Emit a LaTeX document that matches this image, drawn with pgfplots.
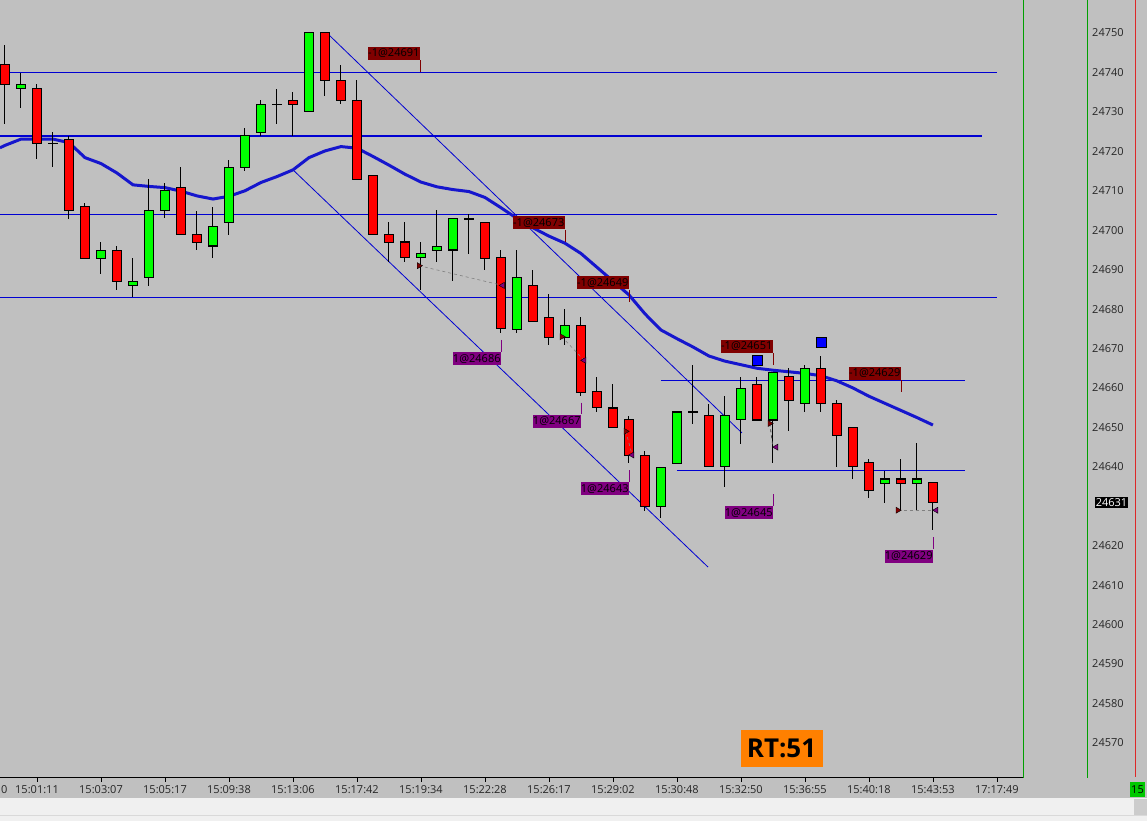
\documentclass[border=0pt]{standalone}
\usepackage{fontspec}
\setmainfont{Open Sans}
\usepackage{pgfplots}
\usepackage{pgfplotstable}
\pgfplotsset{compat=1.18}

\definecolor{chartbg}{RGB}{192,192,192}
\definecolor{candlered}{RGB}{255,0,0}
\definecolor{candlegreen}{RGB}{0,255,0}
\definecolor{levelblue}{RGB}{0,0,210}
\definecolor{mablue}{RGB}{22,22,205}
\definecolor{sellbox}{RGB}{128,0,0}
\definecolor{buybox}{RGB}{128,0,128}
\definecolor{edgegreen}{RGB}{0,160,0}
\definecolor{edgered}{RGB}{220,40,40}
\definecolor{rtorange}{RGB}{255,128,0}
\definecolor{stripgray}{RGB}{240,240,240}
\definecolor{tagbright}{RGB}{0,200,0}

% i = bar index, o h l c = open high low close
\pgfplotstableread{
i o h l c
0 24742 24747 24727 24737
1 24736 24740 24731 24737
2 24736 24737 24718 24722
3 24722 24725 24716 24722
4 24723 24724 24703 24705
5 24706 24707 24693 24693
6 24693 24697 24689 24695
7 24695 24696 24685 24687
8 24686 24693 24683 24687
9 24688 24713 24686 24705
10 24705 24712 24703 24710
11 24711 24716 24699 24699
12 24699 24705 24695 24697
13 24696 24706 24693 24701
14 24702 24718 24699 24716
15 24716 24726 24715 24724
16 24725 24733 24724 24732
17 24732 24736 24727 24732
18 24733 24735 24724 24732
19 24730 24750 24730 24750
20 24750 24750 24734 24738
21 24738 24742 24732 24733
22 24733 24738 24713 24713
23 24714 24714 24699 24699
24 24699 24702 24692 24697
25 24697 24702 24692 24693
26 24693 24697 24685 24694
27 24695 24705 24692 24696
28 24695 24703 24687 24703
29 24703 24704 24694 24703
30 24702 24702 24690 24693
31 24693 24695 24674 24675
32 24675 24695 24674 24688
33 24686 24690 24677 24677
34 24678 24684 24671 24673
35 24673 24680 24671 24676
36 24676 24678 24658 24659
37 24659 24663 24654 24655
38 24655 24661 24650 24650
39 24652 24653 24641 24643
40 24643 24644 24629 24630
41 24630 24640 24627 24640
42 24641 24654 24641 24654
43 24654 24666 24651 24654
44 24653 24656 24640 24640
45 24640 24658 24635 24653
46 24652 24663 24646 24660
47 24661 24663 24652 24652
48 24652 24664 24641 24664
49 24663 24665 24649 24657
50 24656 24666 24654 24665
51 24665 24668 24654 24656
52 24656 24657 24640 24648
53 24650 24650 24637 24640
54 24641 24642 24632 24634
55 24636 24639 24631 24637
56 24637 24642 24629 24636
57 24636 24646 24629 24637
58 24636 24636 24624 24631
}\candles

% moving average
\pgfplotstableread{
i ma
-0.3125 24720.9
0 24721.5
1 24723.1
2 24723.1
3 24723.1
4 24722.2
5 24718.4
6 24716.9
7 24714.5
8 24711.5
9 24711.1
10 24710.8
11 24709.9
12 24708.7
13 24707.9
14 24708.6
15 24710.0
16 24712.1
17 24713.6
18 24715.3
19 24718.4
20 24720.1
21 24721.2
22 24720.8
23 24718.7
24 24716.5
25 24714.2
26 24712.2
27 24711.0
28 24710.3
29 24709.8
30 24708.3
31 24705.7
32 24703.0
33 24700.6
34 24698.5
35 24696.7
36 24694.1
37 24690.6
38 24687.1
39 24683.6
40 24678.8
41 24674.7
42 24672.5
43 24670.4
44 24668.1
45 24666.8
46 24665.9
47 24665.0
48 24664.5
49 24664.1
50 24663.7
51 24663.1
52 24661.8
53 24660.0
54 24657.9
55 24656.1
56 24654.3
57 24652.5
58 24650.6
}\avg

\pgfplotsset{
  frame/.style={at={(0pt,43pt)}, anchor=south west,
    scale only axis, width=1024pt, height=778pt,
    xmin=-0.3125, xmax=63.6875, ymin=24561.11, ymax=24758.37, clip=true},
  candle/.style={draw=none, mark=none, forget plot, unbounded coords=discard,
    error bars/.cd, y dir=both, y explicit, error mark=none},
}
\tikzset{
  lbl/.style={minimum width=52pt, minimum height=13pt, inner sep=0pt,
    font=\fontsize{11pt}{11pt}\selectfont, text=black},
  sell/.style={lbl, fill=sellbox, anchor=south east, yshift=12pt},
  buy/.style={lbl, fill=buybox, minimum width=48pt, anchor=north east, yshift=-12pt},
}

\begin{document}
\begin{tikzpicture}[x=1pt,y=1pt]
\path[use as bounding box] (0,0) rectangle (1147,821);
\fill[chartbg] (0,0) rectangle (1147,821);
\fill[stripgray] (0,0) rectangle (1147,23);
\draw[black!15] (0,6) -- (1147,6);
\fill[black!20] (1134,6) rectangle (1147,22);

% axis A: frame, ticks, levels, average
\begin{axis}[
  frame,
  axis x line*=bottom, axis y line*=right,
  x axis line style={black, line width=1pt, -},
  y axis line style={edgegreen, line width=1pt, -},
  tick align=outside,
  major tick length=4pt,
  xtick={2,6,...,62},
  xticklabels={15:01:11,15:03:07,15:05:17,15:09:38,15:13:06,15:17:42,15:19:34,15:22:28,15:26:17,15:29:02,15:30:48,15:32:50,15:36:55,15:40:18,15:43:53,17:17:49},
  x tick style={black, line width=0.8pt},
  xticklabel style={font=\fontsize{11pt}{13pt}\selectfont, text=black!85},
  ytick={24570,24580,24590,24600,24610,24620,24640,24650,24660,24670,24680,24690,24700,24710,24720,24730,24740,24750},
  y tick style={draw=none},
  scaled y ticks=false,
  yticklabel style={anchor=center, xshift=80pt, font=\fontsize{11pt}{13pt}\selectfont, text=black!85,
    /pgf/number format/.cd, fixed, 1000 sep={}, assume math mode=true},
]
\addplot[levelblue, line width=1pt] coordinates {(-0.3125,24740) (62,24740)};
\addplot[levelblue, line width=2pt] coordinates {(-0.3125,24724) (61.06,24724)};
\addplot[levelblue, line width=1pt] coordinates {(-0.3125,24704) (62,24704)};
\addplot[levelblue, line width=1pt] coordinates {(-0.3125,24683) (62,24683)};
\addplot[levelblue, line width=1pt] coordinates {(41,24662) (60,24662)};
\addplot[levelblue, line width=1pt] coordinates {(42,24639) (60,24639)};
\addplot[levelblue, line width=0.8pt] coordinates {(20.25,24749.5) (46.06,24648.6)};
\addplot[levelblue, line width=0.8pt] coordinates {(18,24715.3) (43.94,24614.6)};
\addplot[mablue, line width=3pt] table[x=i, y=ma] {\avg};
\end{axis}

% axis B: candles
\begin{axis}[frame, hide axis]
\addplot[candle, error bar style={black, line width=1pt}]
  table[x=i, y expr={(\thisrow{h}+\thisrow{l})/2}, y error expr={(\thisrow{h}-\thisrow{l})/2}] {\candles};
\addplot[candle, error bar style={black, line width=10pt}]
  table[x=i, y expr={(\thisrow{o}+\thisrow{c})/2}, y error expr={abs(\thisrow{o}-\thisrow{c})/2+0.15}] {\candles};
\addplot[candle, error bar style={candlered, line width=8pt}]
  table[x=i, y expr={\thisrow{c}<\thisrow{o} ? (\thisrow{o}+\thisrow{c})/2 : nan},
        y error expr={max(abs(\thisrow{o}-\thisrow{c})/2-0.12,0)}] {\candles};
\addplot[candle, error bar style={candlegreen, line width=8pt}]
  table[x=i, y expr={\thisrow{c}>\thisrow{o} ? (\thisrow{o}+\thisrow{c})/2 : nan},
        y error expr={max(abs(\thisrow{o}-\thisrow{c})/2-0.12,0)}] {\candles};
\end{axis}

% axis C: trades and labels
\begin{axis}[frame, hide axis]
\addplot[black!50, dashed, line width=0.6pt] coordinates {(25.875,24691) (31.1,24686)};
\addplot[black!50, dashed, line width=0.6pt] coordinates {(34.8,24673) (36.2,24667)};
\addplot[black!50, dashed, line width=0.6pt] coordinates {(38.8,24649) (39.2,24643)};
\addplot[black!70, dashed, line width=0.8pt] coordinates {(47.8,24651) (48.0,24645)};
\addplot[black!50, dashed, line width=0.6pt] coordinates {(55.8,24629) (58.2,24629)};
\addplot[only marks, mark=triangle*, mark size=3.5pt, mark options={rotate=-90, fill=sellbox, draw=none}]
  coordinates {(25.875,24691) (34.8,24673) (38.8,24649) (47.8,24651) (55.8,24629)};
\addplot[only marks, mark=triangle*, mark size=3.5pt, mark options={rotate=90, fill=buybox, draw=none}]
  coordinates {(31.1,24686) (36.2,24667) (39.2,24643) (48.2,24645) (58.2,24629)};
\addplot[only marks, mark=square*, mark size=5pt, mark options={fill=blue, draw=none}]
  coordinates {(47,24667.1) (51,24671.7)};
% leader lines of the order labels (12 px = 3.04 points of price)
\addplot[sellbox, line width=0.8pt] coordinates {(25.94,24740.1) (25.94,24743.1)};
\addplot[sellbox, line width=0.8pt] coordinates {(35,24697.1) (35,24700.1)};
\addplot[sellbox, line width=0.8pt] coordinates {(39,24681.9) (39,24684.9)};
\addplot[sellbox, line width=0.8pt] coordinates {(48,24665.8) (48,24668.8)};
\addplot[sellbox, line width=0.8pt] coordinates {(56,24659) (56,24662)};
\addplot[buybox, line width=0.8pt] coordinates {(31,24672.2) (31,24669.2)};
\addplot[buybox, line width=0.8pt] coordinates {(36,24656.3) (36,24653.3)};
\addplot[buybox, line width=0.8pt] coordinates {(39,24639.2) (39,24636.2)};
\addplot[buybox, line width=0.8pt] coordinates {(48,24633.1) (48,24630.1)};
\addplot[buybox, line width=0.8pt] coordinates {(58,24622.1) (58,24619.1)};
\node[sell] at (axis cs:25.94,24740.1) {-1@24691};
\node[sell] at (axis cs:35,24697.1) {-1@24673};
\node[sell] at (axis cs:39,24681.9) {-1@24649};
\node[sell] at (axis cs:48,24665.8) {-1@24651};
\node[sell] at (axis cs:56,24659) {-1@24629};
\node[buy] at (axis cs:31,24672.2) {1@24686};
\node[buy] at (axis cs:36,24656.3) {1@24667};
\node[buy] at (axis cs:39,24639.2) {1@24643};
\node[buy] at (axis cs:48,24633.1) {1@24645};
\node[buy] at (axis cs:58,24622.1) {1@24629};
\end{axis}

% tail of the cut-off first time label
\node[anchor=west, inner sep=0pt, font=\fontsize{11pt}{11pt}\selectfont, text=black!85] at (1,31) {0};

% last price tag
\node[fill=black, text=white, inner sep=1.2pt, font=\fontsize{11pt}{11pt}\selectfont] at (1111.5,318.5) {24631};

% right panel lines
\draw[edgegreen, line width=1pt] (1087,43) -- (1087,821);
\draw[edgered, line width=1pt] (1135,44) -- (1135,821);

% RT box
\node[fill=rtorange, minimum width=82pt, minimum height=37pt, inner sep=0pt,
      font=\fontsize{26pt}{26pt}\selectfont\bfseries, text=black] at (781.5,72.5) {RT:51};

% bottom-right tag
\node[fill=tagbright, anchor=west, inner sep=1pt, minimum height=15pt, font=\fontsize{11pt}{11pt}\selectfont, text=black]
  at (1130,31.5) {15};
\end{tikzpicture}
\end{document}
